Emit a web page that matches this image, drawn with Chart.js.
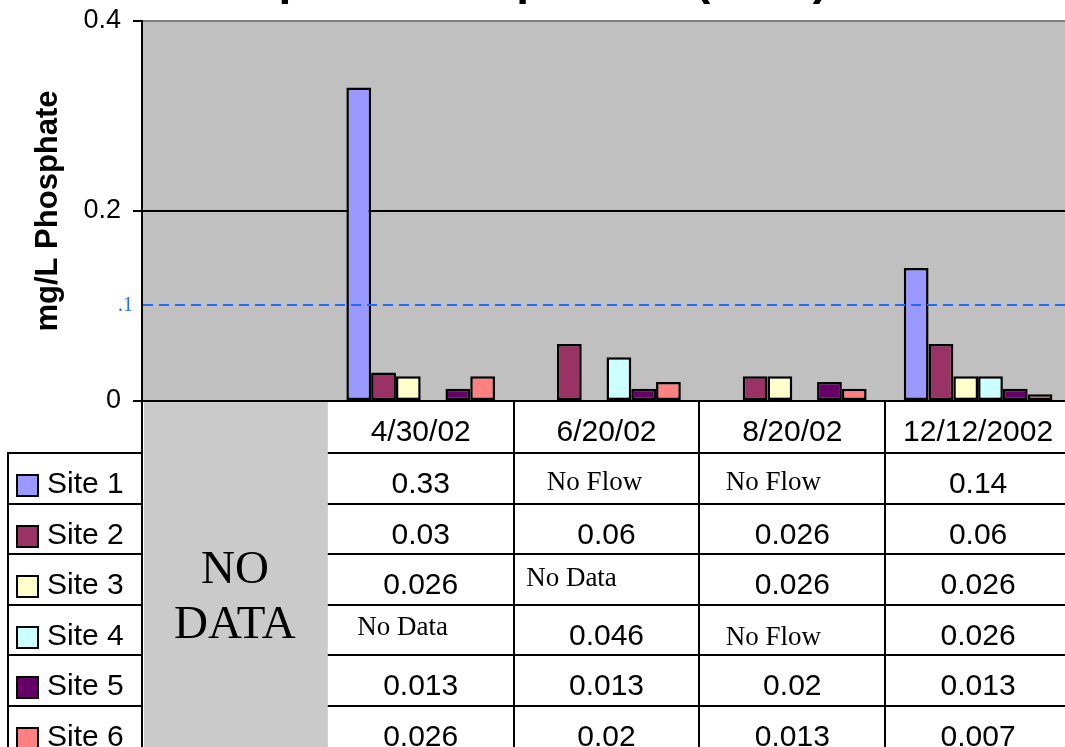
<!DOCTYPE html>
<html>
<head>
<meta charset="utf-8">
<script src="https://cdn.jsdelivr.net/npm/chart.js@4/dist/chart.umd.min.js"></script>
<style>
html,body{margin:0;padding:0;background:#fff;overflow:hidden;width:1065px;height:747px}
canvas{display:block}
</style>
</head>
<body>
<canvas id="c" width="1072" height="747"></canvas>
<script>
// ---------- data ----------
const categories = ['', '4/30/02', '6/20/02', '8/20/02', '12/12/2002'];
const seriesNames = ['Site 1', 'Site 2', 'Site 3', 'Site 4', 'Site 5', 'Site 6'];
const site1 = [null, 0.33, null, null, 0.14];
const site2 = [null, 0.03, 0.06, 0.026, 0.06];
const site3 = [null, 0.026, null, 0.026, 0.026];
const site4 = [null, null, 0.046, null, 0.026];
const site5 = [null, 0.013, 0.013, 0.02, 0.013];
const site6 = [null, 0.026, 0.02, 0.013, 0.007];
const site1Notes = [null, null, 'No Flow', 'No Flow', null];
const site2Notes = [null, null, null, null, null];
const site3Notes = [null, null, 'No Data', null, null];
const site4Notes = [null, 'No Data', null, 'No Flow', null];
const site5Notes = [null, null, null, null, null];
const site6Notes = [null, null, null, null, null];
const yTicks = [0, 0.2, 0.4];
const guideValue = 0.1;
const guideLabel = '.1';
const emptyColumnText = ['NO', 'DATA'];
const titleText = 'Phosphate Comparison (2002)';
const yTitle = 'mg/L Phosphate';

// ---------- styles / layout ----------
const seriesValues = [site1, site2, site3, site4, site5, site6];
const seriesNotes = [site1Notes, site2Notes, site3Notes, site4Notes, site5Notes, site6Notes];
const colors = ['#9999FF', '#993366', '#FFFFCC', '#CCFFFF', '#660066', '#FF8080'];
const SANS = '"Liberation Sans", Arial, sans-serif';
const SERIF = '"Liberation Serif", "Times New Roman", serif';
// note text offsets (dx from column centre, baseline from row top), keyed "series-category"
const noteOffsets = { '0-2': [-12, 37], '0-3': [-19, 37], '2-2': [-35, 32], '3-1': [-18, 30], '3-3': [-19, 40] };

const tablePlugin = {
  id: 'tablePlugin',
  beforeDraw(chart) {
    const { ctx, chartArea: a } = chart;
    ctx.save();
    ctx.fillStyle = '#fff';
    ctx.fillRect(0, 0, chart.width, chart.height);
    ctx.fillStyle = '#c0c0c0';
    ctx.fillRect(a.left, a.top, a.right - a.left, a.bottom - a.top);
    ctx.restore();
  },
  afterDatasetsDraw(chart) {
    const { ctx, chartArea: a, scales: { y } } = chart;
    const py = Math.round(y.getPixelForValue(guideValue)) - 1;
    ctx.save();
    ctx.strokeStyle = '#1E6BFF';
    ctx.lineWidth = 2;
    ctx.setLineDash([10, 6]);
    ctx.beginPath();
    ctx.moveTo(a.left + 1, py);
    ctx.lineTo(a.right, py);
    ctx.stroke();
    ctx.setLineDash([]);
    ctx.fillStyle = '#1E6BFF';
    ctx.font = '20px ' + SERIF;
    ctx.textAlign = 'right';
    ctx.textBaseline = 'alphabetic';
    ctx.fillText(guideLabel, a.left - 9, py + 6);
    ctx.restore();
  },
  afterDraw(chart) {
    const { ctx, chartArea: a, scales: { x } } = chart;
    const n = categories.length;
    const cw = (x.right - x.left) / n;
    const colLeft = i => x.getPixelForValue(i) - cw / 2;
    const top0 = a.bottom;
    const dateH = 52, rowH = 50.5;
    const rowTop = r => top0 + dateH + r * rowH;
    const legendLeft = 8;
    const H = chart.height;
    ctx.save();

    // title (cut off at the top of the picture)
    ctx.fillStyle = '#000';
    ctx.font = 'bold 46px ' + SANS;
    ctx.textAlign = 'left';
    ctx.textBaseline = 'alphabetic';
    ctx.fillText(titleText, 166, -6);

    // grey empty column
    ctx.fillStyle = '#cacaca';
    ctx.fillRect(a.left + 2, top0 + 1, colLeft(1) - a.left - 2, H - top0);

    // lines
    ctx.strokeStyle = '#000';
    ctx.lineWidth = 2;
    ctx.beginPath();
    ctx.moveTo(legendLeft, rowTop(0)); ctx.lineTo(legendLeft, H);
    ctx.moveTo(a.left, top0); ctx.lineTo(a.left, H);
    for (let i = 2; i <= n; i++) {
      const xx = Math.round(colLeft(i));
      ctx.moveTo(xx, top0); ctx.lineTo(xx, H);
    }
    for (let r = 0; r < seriesNames.length; r++) {
      const yy = Math.round(rowTop(r));
      ctx.moveTo(legendLeft - 1, yy); ctx.lineTo(a.left, yy);
      ctx.moveTo(colLeft(1), yy); ctx.lineTo(a.right, yy);
    }
    ctx.stroke();

    // date header
    ctx.fillStyle = '#000';
    ctx.font = '30px ' + SANS;
    ctx.textAlign = 'center';
    for (let i = 1; i < n; i++) {
      ctx.fillText(categories[i], x.getPixelForValue(i), top0 + 40);
    }

    // legend + values
    chart.data.datasets.forEach((ds, r) => {
      const rt = Math.round(rowTop(r));
      ctx.fillStyle = ds.backgroundColor;
      ctx.fillRect(17, rt + 22, 21, 21);
      ctx.strokeStyle = '#000';
      ctx.lineWidth = 2;
      ctx.strokeRect(17, rt + 22, 21, 21);
      ctx.fillStyle = '#000';
      ctx.font = '30px ' + SANS;
      ctx.textAlign = 'left';
      ctx.fillText(ds.label, 47, rt + 40);
      for (let i = 1; i < n; i++) {
        const cx = x.getPixelForValue(i);
        const v = ds.data[i];
        if (v !== null && v !== undefined) {
          ctx.font = '30px ' + SANS;
          ctx.textAlign = 'center';
          ctx.fillText(String(v), cx, rt + 40);
        } else if (seriesNotes[r][i]) {
          const off = noteOffsets[r + '-' + i] || [0, 36];
          ctx.font = '27px ' + SERIF;
          ctx.textAlign = 'center';
          ctx.fillText(seriesNotes[r][i], cx + off[0], rt + off[1]);
        }
      }
    });

    // NO DATA text
    const gx = (a.left + colLeft(1)) / 2;
    ctx.font = '47px ' + SERIF;
    ctx.textAlign = 'center';
    ctx.fillText(emptyColumnText[0], gx, top0 + 182);
    ctx.fillText(emptyColumnText[1], gx, top0 + 237);
    ctx.restore();
  }
};

new Chart(document.getElementById('c'), {
  type: 'bar',
  data: {
    labels: categories,
    datasets: seriesNames.map((name, k) => ({
      label: name,
      data: seriesValues[k],
      backgroundColor: colors[k],
      borderColor: '#000',
      borderWidth: 2.5,
      borderSkipped: false,
      barPercentage: 1,
      categoryPercentage: 0.8
    }))
  },
  options: {
    responsive: false,
    animation: false,
    devicePixelRatio: 1,
    layout: { padding: { top: 21, right: 1, bottom: 346, left: 0 } },
    plugins: { legend: { display: false }, tooltip: { enabled: false }, title: { display: false } },
    scales: {
      x: { type: 'category', display: false, offset: true },
      y: {
        min: 0, max: 0.4,
        afterBuildTicks: s => { s.ticks = yTicks.map(v => ({ value: v })); },
        afterFit: s => { s.width = 142; s.paddingTop = 0; s.paddingBottom = 0; },
        border: { display: true, color: '#000', width: 2 },
        grid: {
          color: c => (c.tick && c.tick.value === 0.4) ? '#808080' : '#000',
          lineWidth: 2, tickLength: 9, tickColor: '#000', drawTicks: true
        },
        ticks: { color: '#000', font: { family: SANS, size: 27 }, padding: 12, callback: v => String(v) },
        title: {
          display: true, text: yTitle, color: '#000',
          font: { family: SANS, size: 31, weight: 'bold' },
          padding: { top: 30, bottom: 0 }
        }
      }
    }
  },
  plugins: [tablePlugin]
});
</script>
</body>
</html>
